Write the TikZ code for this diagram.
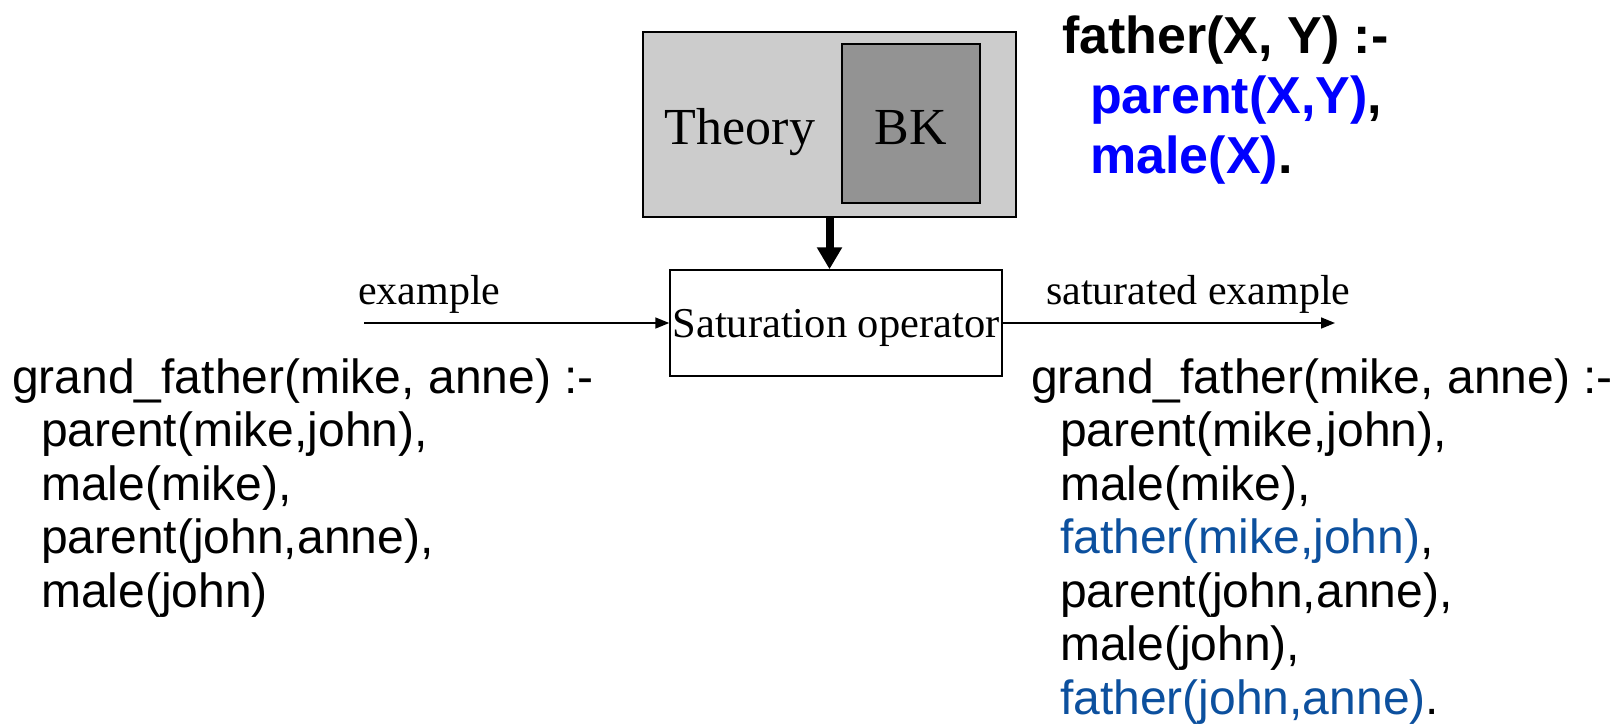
\documentclass[tikz,border=0pt]{standalone}
\usepackage{fontspec}
\setmainfont{Liberation Serif}
\newfontfamily\arialfont{Liberation Sans}
\usepackage{tikz}
\usetikzlibrary{arrows.meta,positioning}
\definecolor{theorygray}{RGB}{204,204,204}
\definecolor{bkgray}{RGB}{147,147,147}
\definecolor{factblue}{RGB}{12,80,158}
\definecolor{headblue}{RGB}{0,0,255}

\begin{document}
\begin{tikzpicture}[
  x=1pt, y=-1pt,
  graybox/.style={
    draw,
    line width=1.5pt,
    inner sep=0pt
    },
  bigserif/.style={
    font=\fontsize{52}{60}\selectfont,
    inner sep=0pt
    },
  arrowlbl/.style={
    font=\fontsize{42}{48}\selectfont,
    inner sep=0pt
    },
  thinarrow/.style={
    line width=1.6pt,
    -{Triangle[length=14pt,width=11pt]}
    },
  clause/.style={
    font=\arialfont\fontsize{48}{53.5}\selectfont,
    align=left,
    inner sep=0pt
    },
  boldclause/.style={
    font=\arialfont\bfseries\fontsize{52}{60}\selectfont,
    align=left,
    inner sep=0pt
    }
]

\useasboundingbox (0,0) rectangle (1617,724);

% theory with background knowledge
\node[graybox, fill=theorygray, minimum width=373pt, minimum height=185pt]
  (theory) at (829.5,124.5) {};
\node[graybox, fill=bkgray, minimum width=138pt, minimum height=159pt]
  (bk) at (911,123.5) {};
\node[bigserif, anchor=base] (theorytxt) at (740,144) {Theory};
\node[bigserif, anchor=base] (bktxt) at (bk |- theorytxt.base) {BK};

% operator
\node[graybox, fill=white, minimum width=332pt, minimum height=106pt,
  text height=29pt, text depth=0pt,
  font=\fontsize{42.5}{50}\selectfont]
  (satop) at (836,323) {Saturation operator};

\draw[line width=8pt, -{Triangle[width=24pt,length=22pt]}]
  (theory.south) -- (theory.south |- satop.north);

\coordinate (exin) at (364,323);
\coordinate (exout) at (1335,323);
\draw[thinarrow] (exin) -- (satop.west);
\draw[thinarrow] (satop.east) -- (exout);

\node[arrowlbl, anchor=base west] (exlbl) at (358,304) {example};
\node[arrowlbl, anchor=base west] (satlbl) at (1046,304) {saturated example};

% clauses
\node[boldclause, anchor=north west] (bkrule) at (1062,11)
  {\strut father(X, Y) :-\\
   \hspace*{28pt}\textcolor{headblue}{parent(X,Y)},\\
   \hspace*{28pt}\textcolor{headblue}{male(X)}.};

\node[clause, anchor=north west] (inclause) at (12,355.5)
  {\strut grand\_father(mike, anne) :-\\
   \hspace*{29pt}parent(mike,john),\\
   \hspace*{29pt}male(mike),\\
   \hspace*{29pt}parent(john,anne),\\
   \hspace*{29pt}male(john)};

\node[clause, anchor=north west] (outclause) at (1031,355.5)
  {\strut grand\_father(mike, anne) :-\\
   \hspace*{29pt}parent(mike,john),\\
   \hspace*{29pt}male(mike),\\
   \hspace*{29pt}\textcolor{factblue}{father(mike,john)},\\
   \hspace*{29pt}parent(john,anne),\\
   \hspace*{29pt}male(john),\\
   \hspace*{29pt}\textcolor{factblue}{father(john,anne)}.};

\end{tikzpicture}
\end{document}
